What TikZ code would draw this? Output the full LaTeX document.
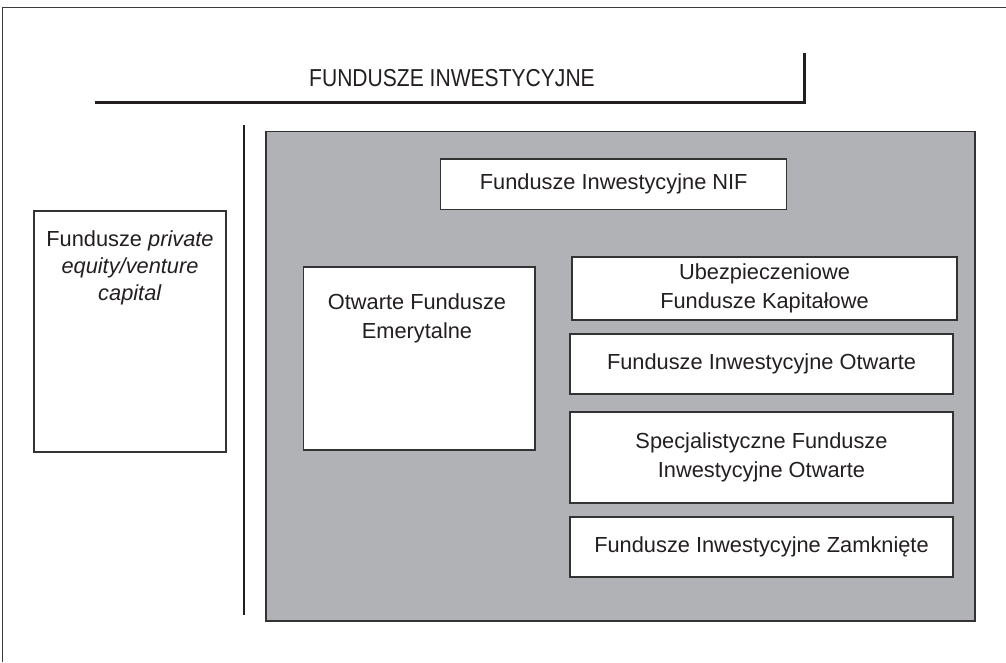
\documentclass[tikz,border=0pt]{standalone}
\usepackage{fontspec}
\setmainfont{Liberation Sans}
\newfontfamily\titlefont{Liberation Sans}[FakeStretch=0.86]
\definecolor{linec}{HTML}{333333}
\definecolor{framec}{HTML}{3C3C3C}
\definecolor{panelc}{HTML}{B1B2B6}
\definecolor{textc}{HTML}{231F20}
\begin{document}
\begin{tikzpicture}[x=1pt,y=-1pt,
  frameline/.style={draw=framec,line width=1.2pt},
  heavyline/.style={draw=textc,line width=2.2pt},
  panel/.style={draw=linec,line width=1.1pt,fill=panelc},
  whitebox/.style={draw=linec,line width=1.1pt,fill=white,inner sep=0pt,
    text=textc,align=center,font=\fontsize{21.8}{28.5}\selectfont},
  label/.style={inner sep=0pt,text=textc,align=center,font=\fontsize{21.8}{27}\selectfont},
  titletext/.style={inner sep=0pt,text=textc,font=\titlefont\fontsize{24.5}{28}\selectfont}]
\useasboundingbox (0,0) rectangle (1006,662);
% outer frame (cropped)
\coordinate (fb) at (2.5,662);
\coordinate (ftl) at (2.5,7.5);
\coordinate (fr) at (1006,7.5);
\draw[frameline] (fb) -- (ftl) -- (fr);
% title
\node[titletext,anchor=base] (title) at (452,86.5) {FUNDUSZE INWESTYCYJNE};
\coordinate (tl) at (95,102.5);
\coordinate (tc) at (804.5,102.5);
\coordinate (tt) at (804.5,53);
\draw[heavyline] (tl) -- (tc) -- (tt);
% separator
\coordinate (s1) at (244.3,125);
\coordinate (s2) at (244.3,615);
\draw[heavyline,line width=2pt] (s1) -- (s2);
% grey panel
\node[panel,inner sep=0pt,minimum width=709pt,minimum height=489.5pt] (panel) at (620.5,376.25) {};
% left box
\node[whitebox,minimum width=192pt,minimum height=241pt] (pe) at (130,331.5) {};
\node[label,anchor=north] (pet) at (130,230) {Fundusze \textit{private}\\\textit{equity/venture}\\\textit{capital}};
% NIF
\node[whitebox,minimum width=346pt,minimum height=50.3pt] (nif) at (613.7,184.15) {Fundusze Inwestycyjne NIF};
% OFE
\node[whitebox,minimum width=231.7pt,minimum height=183pt] (ofe) at (419.15,358.5) {};
\node[label,anchor=north,font=\fontsize{21.8}{29}\selectfont] (ofet) at (417,293) {Otwarte Fundusze\\Emerytalne};
% right column
\node[whitebox,minimum width=385pt,minimum height=63pt] (ufk) at (764.5,288.5) {Ubezpieczeniowe\\Fundusze Kapitałowe};
\node[whitebox,minimum width=383pt,minimum height=60pt] (fio) at (761.5,364) {Fundusze Inwestycyjne Otwarte};
\node[whitebox,minimum width=383pt,minimum height=91pt] (sfio) at (761.5,457.5) {Specjalistyczne Fundusze\\Inwestycyjne Otwarte};
\node[whitebox,minimum width=383pt,minimum height=60pt] (fiz) at (761.5,547) {Fundusze Inwestycyjne Zamknięte};
\end{tikzpicture}
\end{document}
